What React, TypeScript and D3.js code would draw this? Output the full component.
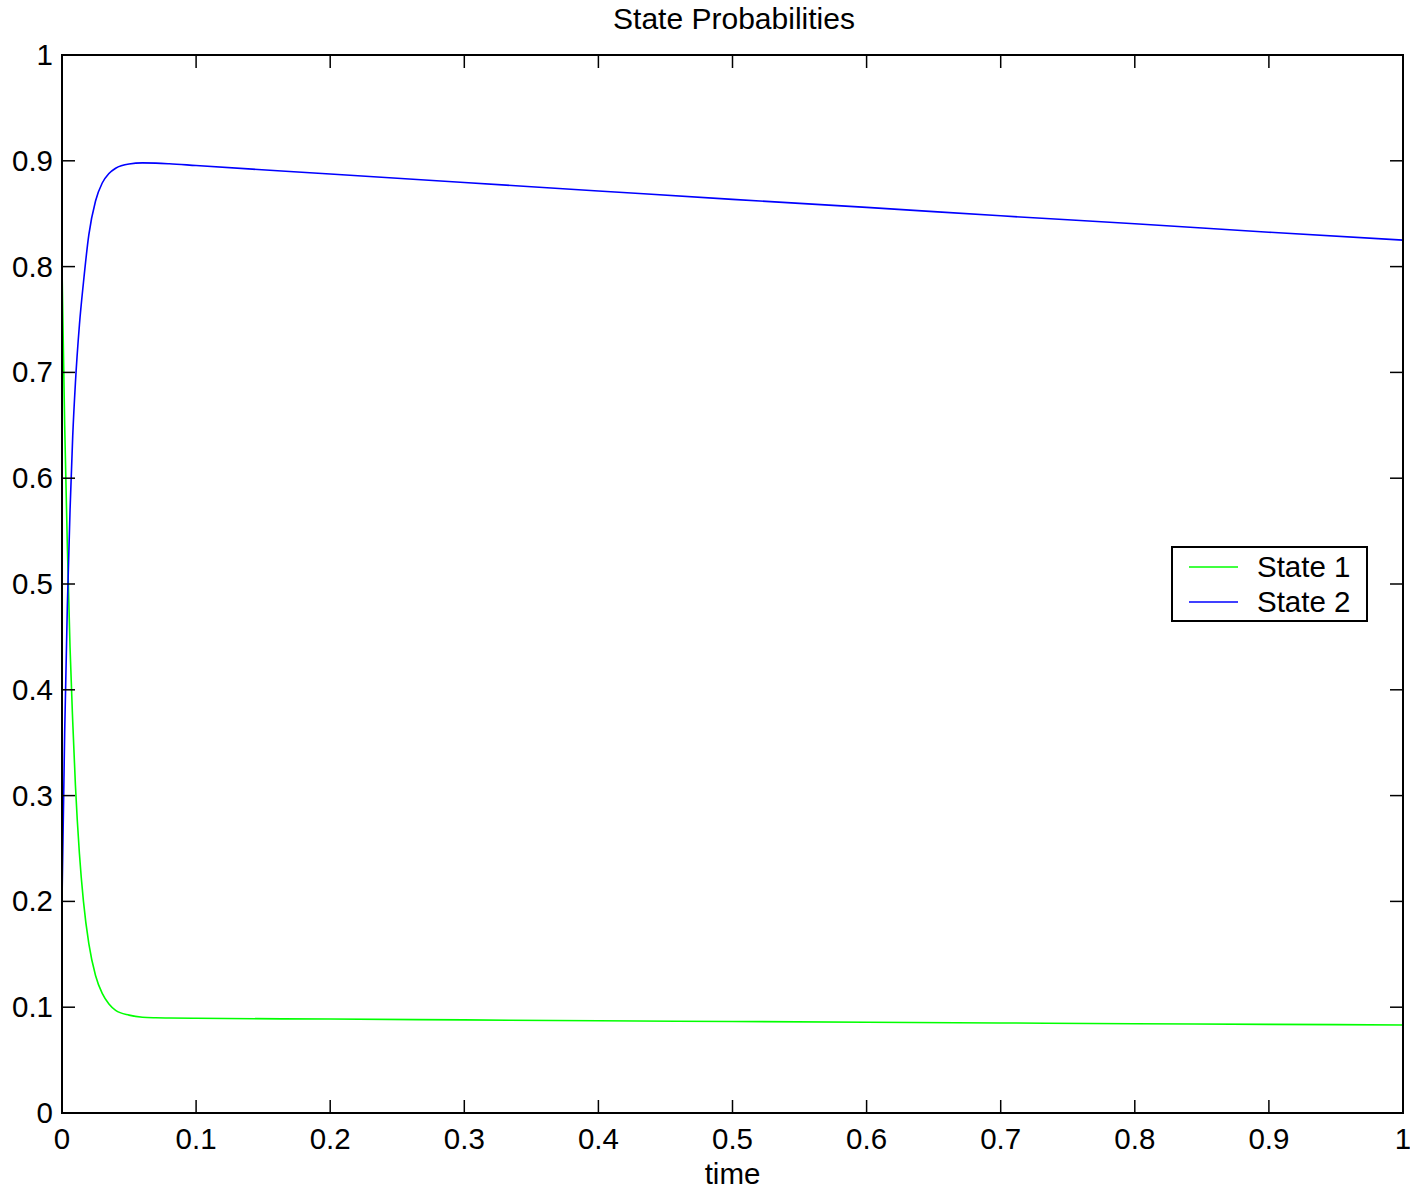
import React from "react";
import * as d3 from "d3";

const W = 1410;
const H = 1191;

const titleText = "State Probabilities";
const xLabelText = "time";
const seriesNames = ["State 1", "State 2"];
const seriesColors = ["#00ff00", "#0000ff"];

const xTicks = [0, 0.1, 0.2, 0.3, 0.4, 0.5, 0.6, 0.7, 0.8, 0.9, 1];
const yTicks = [0, 0.1, 0.2, 0.3, 0.4, 0.5, 0.6, 0.7, 0.8, 0.9, 1];

const timeValues = [
  0, 0.002, 0.004, 0.006, 0.008, 0.01, 0.013, 0.016, 0.02, 0.025, 0.03, 0.035,
  0.04, 0.05, 0.06, 0.07, 0.08, 0.1, 0.2, 0.3, 0.4, 0.5, 0.6, 0.7, 0.8, 0.9, 1,
];

const state1Values = [
  0.8, 0.65, 0.535, 0.44, 0.37, 0.31, 0.245, 0.2, 0.16, 0.13, 0.113, 0.103,
  0.097, 0.0925, 0.0905, 0.09, 0.0898, 0.0895, 0.0888, 0.088, 0.0872, 0.0865,
  0.0858, 0.0851, 0.0844, 0.0838, 0.0832,
];

const state2Values = [
  0.2, 0.36, 0.48, 0.57, 0.64, 0.69, 0.745, 0.785, 0.83, 0.862, 0.879, 0.888,
  0.893, 0.897, 0.898, 0.8978, 0.8972, 0.8955, 0.8875, 0.8795, 0.8715, 0.8635,
  0.856, 0.848, 0.8405, 0.8325, 0.825,
];

const FONT = "'Liberation Sans', Arial, Helvetica, sans-serif";

export default function App() {
  const left = 62;
  const right = 1403;
  const top = 55;
  const bottom = 1113;

  const x = d3.scaleLinear().domain([0, 1]).range([left, right]);
  const y = d3.scaleLinear().domain([0, 1]).range([bottom, top]);

  const line = d3
    .line<[number, number]>()
    .x((d) => x(d[0]))
    .y((d) => y(d[1]))
    .curve(d3.curveMonotoneX);

  const series = [state1Values, state2Values].map((vals) =>
    timeValues.map((t, i) => [t, vals[i]] as [number, number])
  );

  const tickLen = 13;
  const fmt = (v: number) => (v === 0 || v === 1 ? String(v) : d3.format(".1f")(v));

  const legX = 1172;
  const legY = 547;
  const legW = 195;
  const legH = 74;

  return (
    <svg
      width={W}
      height={H}
      style={{ position: "absolute", left: 0, top: 0, background: "#fff" }}
      fontFamily={FONT}
    >
      <rect x={0} y={0} width={W} height={H} fill="#fff" />
      <defs>
        <clipPath id="plot">
          <rect x={left} y={top} width={right - left} height={bottom - top} />
        </clipPath>
      </defs>

      {/* title */}
      <text x={734} y={29} textAnchor="middle" fontSize={30} fill="#000">
        {titleText}
      </text>

      {/* data */}
      <g clipPath="url(#plot)">
        {series.map((s, i) => (
          <path
            key={i}
            d={line(s) || ""}
            fill="none"
            stroke={seriesColors[i]}
            strokeWidth={1.6}
          />
        ))}
      </g>

      {/* axes box */}
      <rect
        x={left}
        y={top}
        width={right - left}
        height={bottom - top}
        fill="none"
        stroke="#000"
        strokeWidth={2}
      />

      {/* x ticks */}
      {xTicks.map((t) => (
        <g key={"x" + t}>
          <line x1={x(t)} x2={x(t)} y1={bottom} y2={bottom - tickLen} stroke="#000" strokeWidth={1.5} />
          <line x1={x(t)} x2={x(t)} y1={top} y2={top + tickLen} stroke="#000" strokeWidth={1.5} />
          <text x={x(t)} y={1149} textAnchor="middle" fontSize={29.5} fill="#000">
            {fmt(t)}
          </text>
        </g>
      ))}

      {/* y ticks */}
      {yTicks.map((t) => (
        <g key={"y" + t}>
          <line x1={left} x2={left + tickLen} y1={y(t)} y2={y(t)} stroke="#000" strokeWidth={1.5} />
          <line x1={right} x2={right - tickLen} y1={y(t)} y2={y(t)} stroke="#000" strokeWidth={1.5} />
          <text x={53} y={y(t) + 10} textAnchor="end" fontSize={29.5} fill="#000">
            {fmt(t)}
          </text>
        </g>
      ))}

      {/* x label */}
      <text x={(left + right) / 2} y={1184} textAnchor="middle" fontSize={29.5} fill="#000">
        {xLabelText}
      </text>

      {/* legend */}
      <rect x={legX} y={legY} width={legW} height={legH} fill="#fff" stroke="#000" strokeWidth={2} />
      {seriesNames.map((name, i) => (
        <g key={name}>
          <line
            x1={1189}
            x2={1238}
            y1={567 + i * 35}
            y2={567 + i * 35}
            stroke={seriesColors[i]}
            strokeWidth={1.6}
          />
          <text x={1257} y={577 + i * 35} fontSize={29.5} fill="#000">
            {name}
          </text>
        </g>
      ))}
    </svg>
  );
}
